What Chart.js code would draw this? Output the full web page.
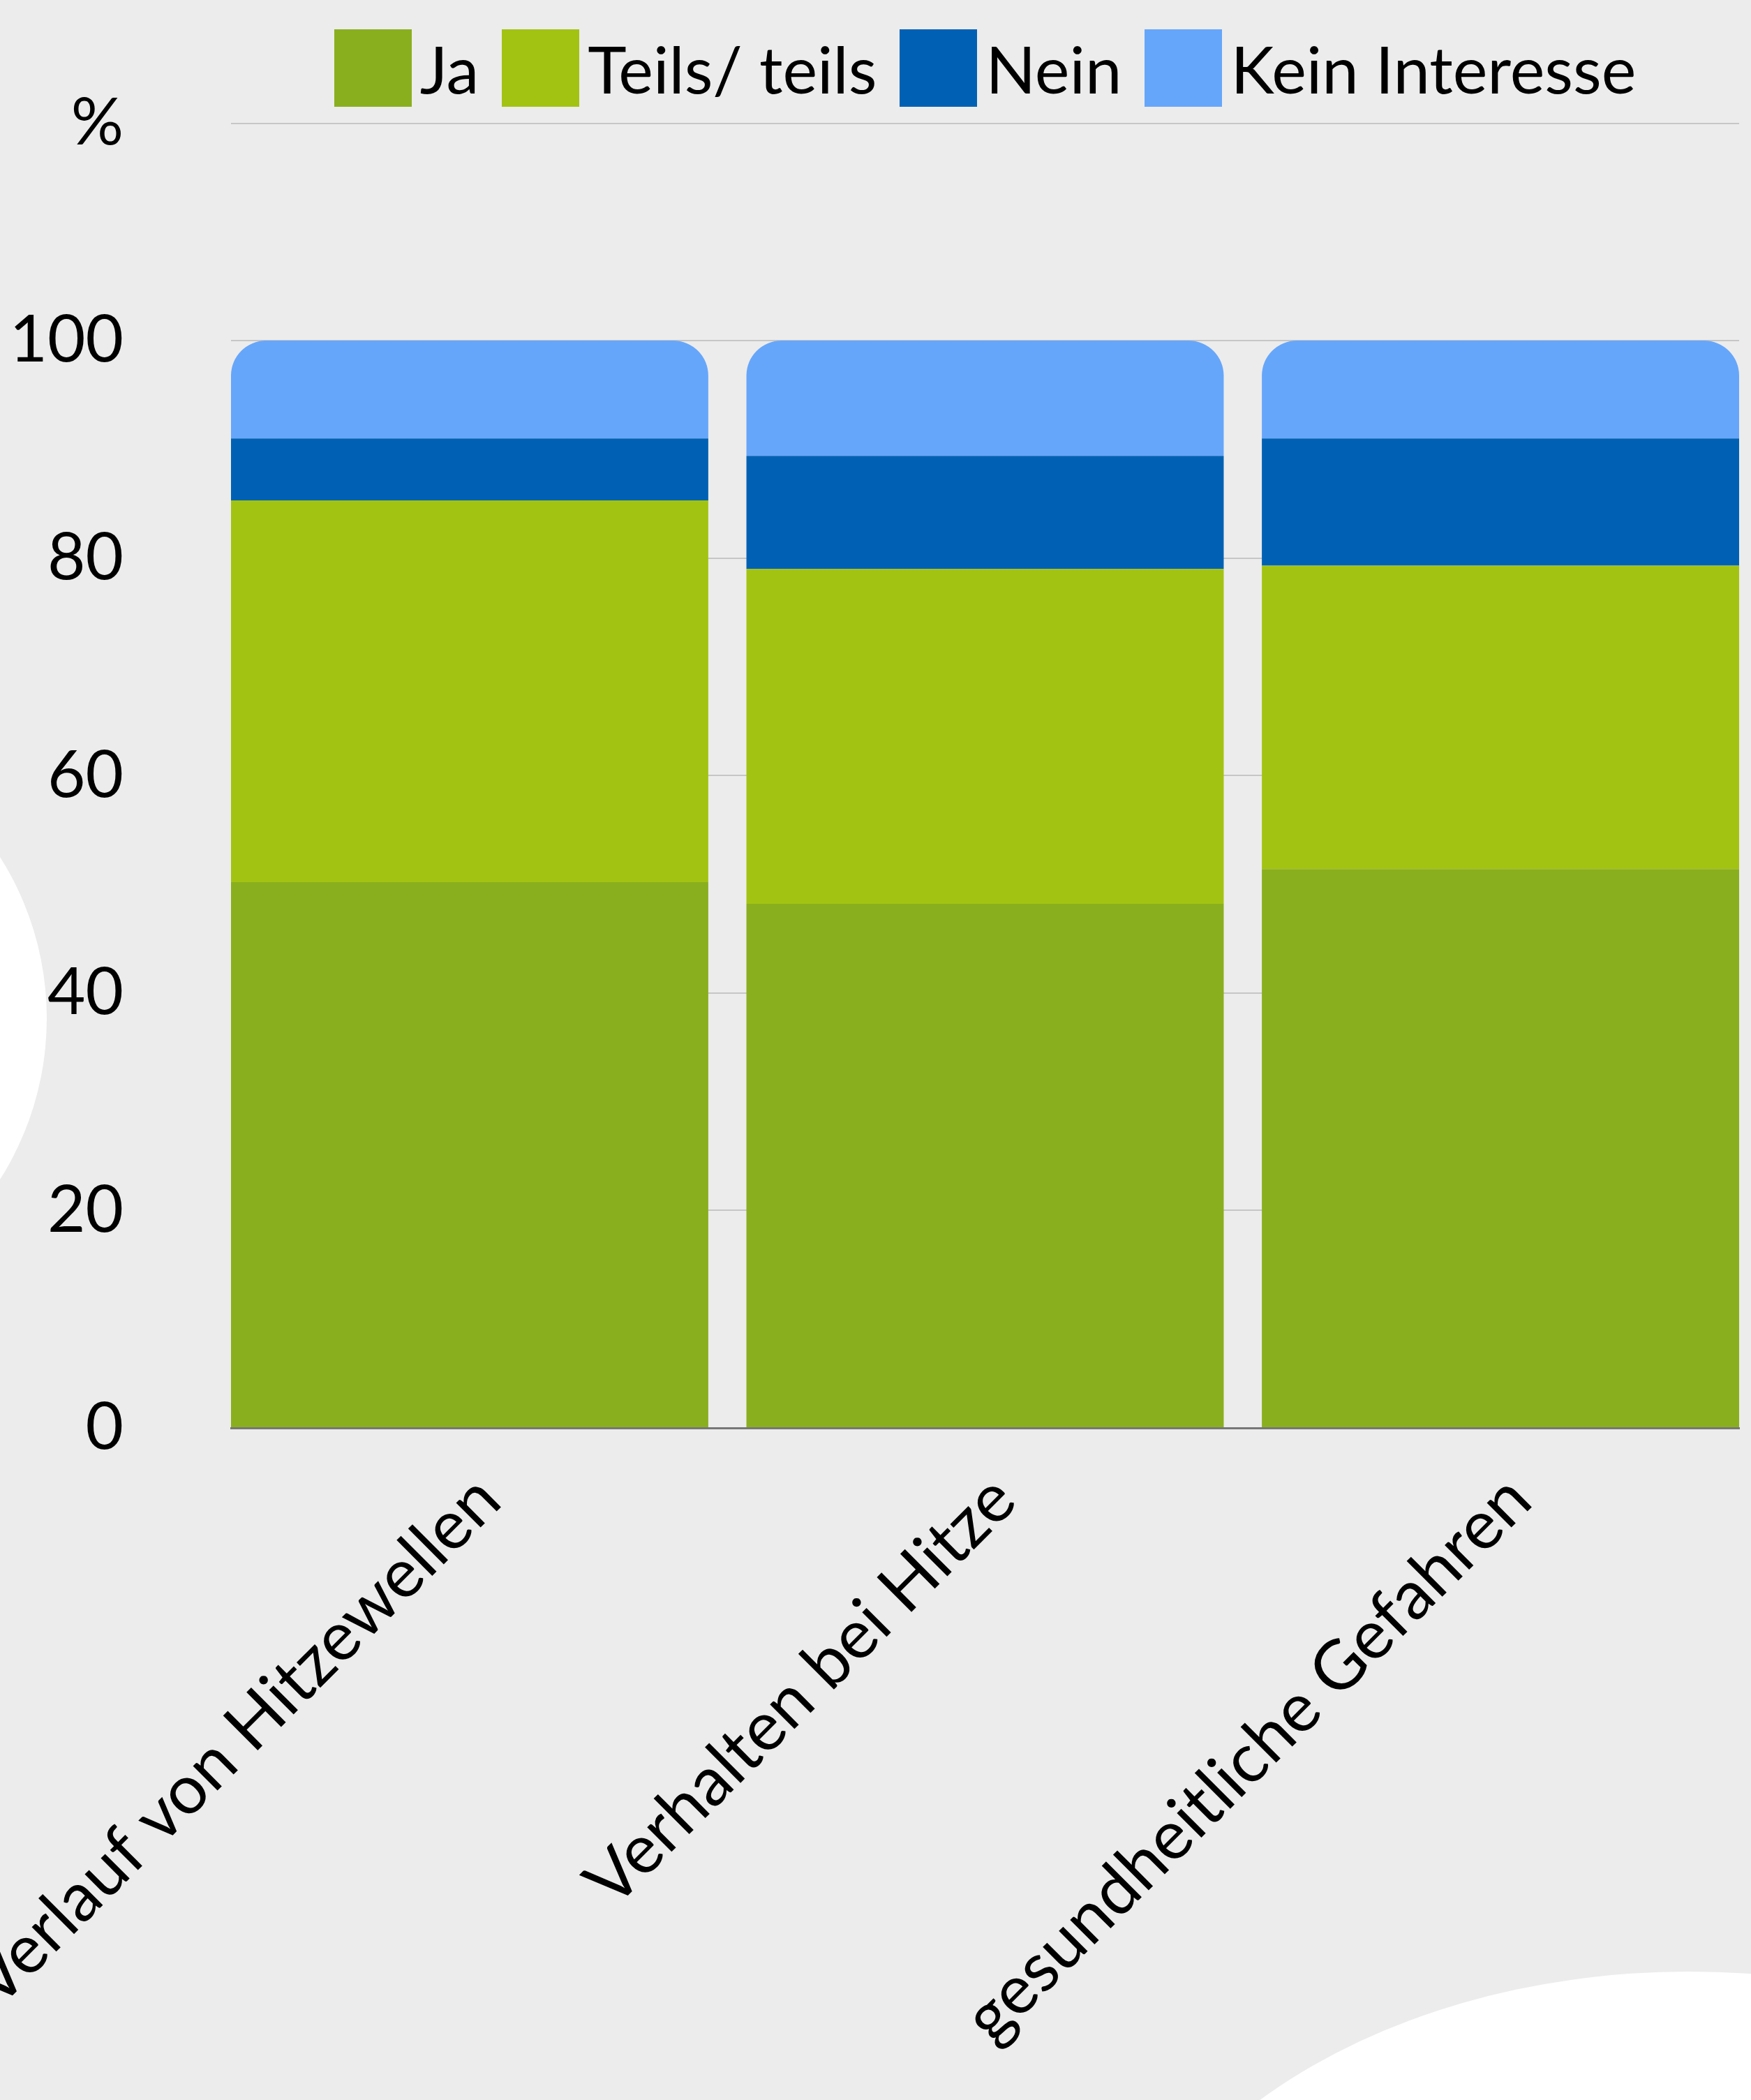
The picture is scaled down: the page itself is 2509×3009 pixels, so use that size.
<!DOCTYPE html>
<html>
<head>
<meta charset="utf-8">
<script src="https://cdn.jsdelivr.net/npm/chart.js@4"></script>
<style>
  html, body { margin: 0; padding: 0; background: #ececec; overflow: hidden; }
  #wrap { position: relative; width: 2509px; height: 3009px; overflow: hidden; }
  .blob { position: absolute; background: #fff; border-radius: 50%; }
  #blobLeft { left: -797px; top: 1027px; width: 864px; height: 864px; }
  #blobRight { left: 1570px; top: 2825px; width: 1700px; height: 1190px; }
  #chart { position: absolute; left: 0; top: 0; }
  #legend {
    position: absolute; left: 331px; top: 42px; width: 2161px;
    display: flex; justify-content: center; align-items: center;
    font-family: Lato, 'DejaVu Sans', sans-serif; font-size: 94px; line-height: 111px; color: #000;
  }
  #legend .item { display: flex; align-items: center; margin-right: 33px; }
  #legend .item:last-child { margin-right: 0; }
  #legend .box { width: 111px; height: 111px; margin-right: 12px; }
</style>
</head>
<body>
<div id="wrap">
  <div class="blob" id="blobLeft"></div>
  <div class="blob" id="blobRight"></div>
  <canvas id="chart" width="2509" height="3009"></canvas>
  <div id="legend"></div>
</div>
<script>
const categories = ['Verlauf von Hitzewellen', 'Verhalten bei Hitze', 'gesundheitliche Gefahren'];
const seriesNames = ['Ja', 'Teils/ teils', 'Nein', 'Kein Interesse'];
const ja = [50.2, 48.2, 51.4];
const teils = [35.1, 30.8, 27.9];
const nein = [5.7, 10.4, 11.7];
const keinInteresse = [9.0, 10.6, 9.0];
const yTicks = [0, 20, 40, 60, 80, 100, 120];
const yTickLabels = ['0', '20', '40', '60', '80', '100', '%'];

const colors = ['#8AAF1E', '#A3C312', '#0061B4', '#66A6FA'];

Chart.defaults.font.family = "Lato, 'DejaVu Sans', sans-serif";
Chart.defaults.font.size = 94;
Chart.defaults.color = '#000';

// bars sit on a linear x axis so the outer bars touch the plot edges
const toPoints = arr => arr.map((v, i) => ({ x: i, y: v }));

const chart = new Chart(document.getElementById('chart'), {
    type: 'bar',
    data: {
        datasets: [
            { label: seriesNames[0], data: toPoints(ja), backgroundColor: colors[0] },
            { label: seriesNames[1], data: toPoints(teils), backgroundColor: colors[1] },
            { label: seriesNames[2], data: toPoints(nein), backgroundColor: colors[2] },
            {
                label: seriesNames[3], data: toPoints(keinInteresse), backgroundColor: colors[3],
                borderSkipped: 'start',
                borderRadius: { topLeft: 50, topRight: 50, bottomLeft: 0, bottomRight: 0 }
            }
        ]
    },
    options: {
        responsive: false,
        animation: false,
        layout: { padding: { top: 0, right: 17, left: 0, bottom: 0 } },
        datasets: { bar: { categoryPercentage: 1, barPercentage: 0.926 } },
        plugins: {
            legend: { display: false },
            tooltip: { enabled: false }
        },
        scales: {
            x: {
                type: 'linear',
                stacked: true,
                offset: false,
                min: -0.463,
                max: 2.463,
                grid: { display: false, drawTicks: false },
                border: { display: true, color: '#777777', width: 3 },
                ticks: {
                    stepSize: 1,
                    includeBounds: false,
                    autoSkip: false,
                    minRotation: 45,
                    maxRotation: 45,
                    padding: 45,
                    labelOffset: 27,
                    font: { size: 98 },
                    callback: v => categories[v] ?? ''
                },
                afterFit: s => { s.height = 963; s.paddingLeft = 0; s.paddingRight = 0; }
            },
            y: {
                stacked: true,
                min: 0,
                max: 120,
                ticks: {
                    stepSize: 20,
                    padding: 154,
                    callback: v => yTickLabels[yTicks.indexOf(v)]
                },
                grid: { color: '#c6c6c6', lineWidth: 2, drawTicks: false },
                border: { display: false },
                afterFit: s => { s.width = 331; s.paddingTop = 176.5; s.paddingBottom = 0; }
            }
        }
    }
});

// legend as html, built from the chart's datasets
const legendEl = document.getElementById('legend');
chart.data.datasets.forEach(ds => {
    const item = document.createElement('div');
    item.className = 'item';
    const box = document.createElement('span');
    box.className = 'box';
    box.style.background = ds.backgroundColor;
    const text = document.createElement('span');
    text.textContent = ds.label;
    item.appendChild(box);
    item.appendChild(text);
    legendEl.appendChild(item);
});
</script>
</body>
</html>
